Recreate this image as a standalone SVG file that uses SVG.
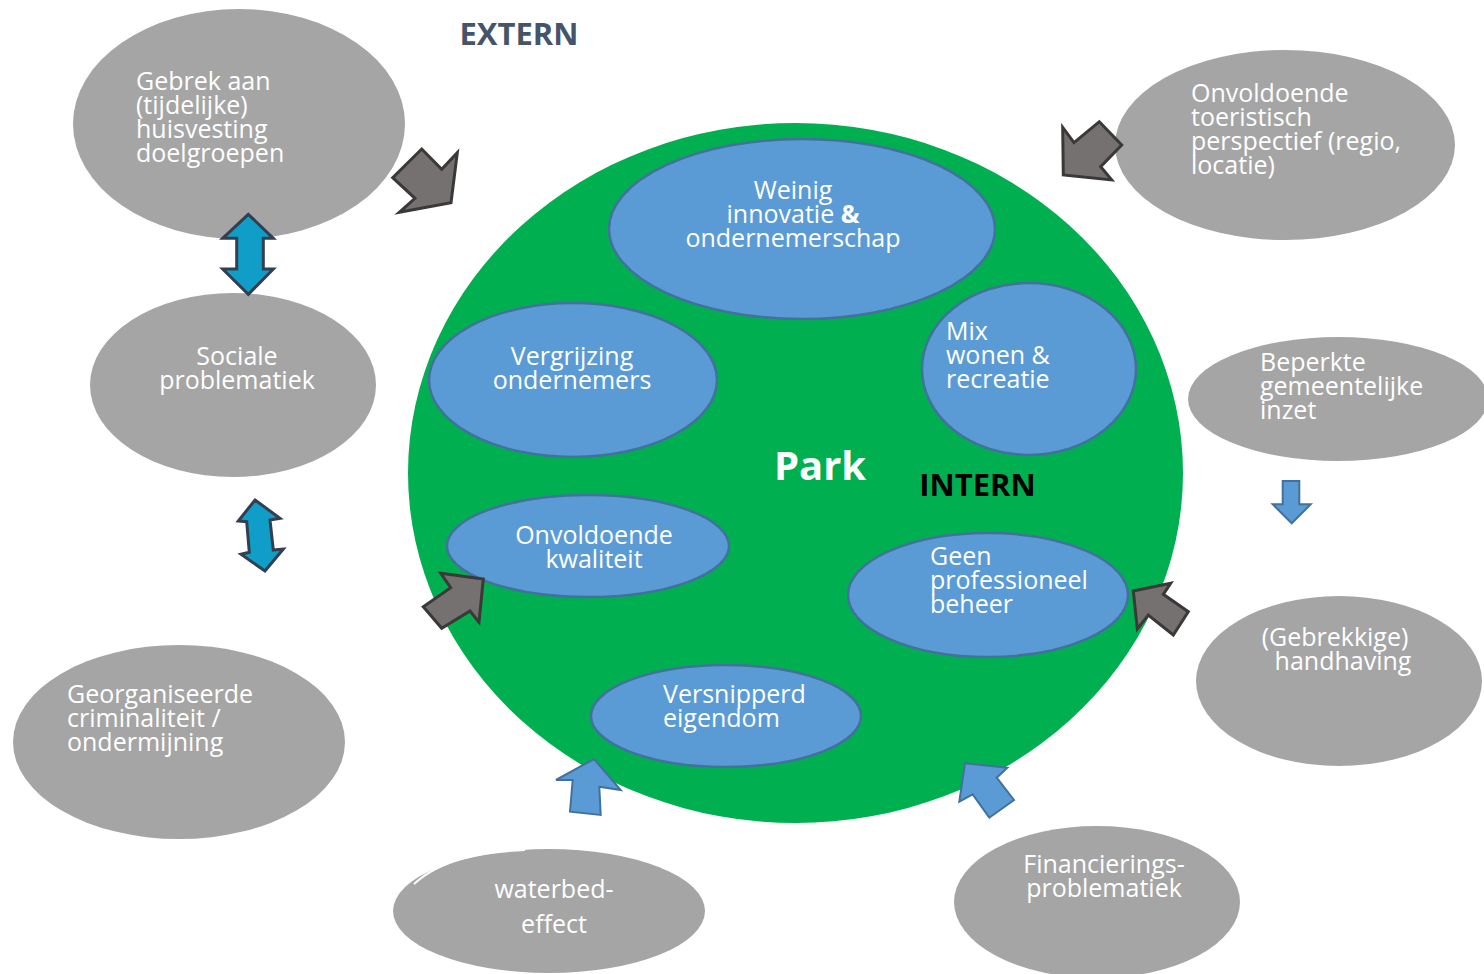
<svg xmlns="http://www.w3.org/2000/svg" width="1484" height="974" viewBox="0 0 1484 974">
<style>
.g{fill:#A5A5A5}
.b{fill:#5B9BD5;stroke:#41719C;stroke-width:2.5}
.t{font-family:"Open Sans","Liberation Sans",sans-serif;font-size:25px;fill:#fff}
.c{text-anchor:middle}
.ga{fill:#767171;stroke:#3B3838;stroke-width:3;stroke-linejoin:miter}
.da{fill:#109EC8;stroke:#333F4F;stroke-width:3}
.ba{fill:#5B9BD5;stroke:#41719C;stroke-width:2}
</style>
<rect width="1484" height="974" fill="#fff"/>
<g id="park">
<ellipse cx="795.5" cy="473" rx="387.5" ry="350" fill="#00B050"/>
<text x="820" y="480" class="t c" style="font-size:40px;font-weight:bold">Park</text>
</g>
<g id="extern-label"><text x="519" y="45" class="t c" style="font-size:31px;font-weight:bold;fill:#44546A">EXTERN</text></g>
<g id="intern-label"><text x="977.5" y="496" class="t c" style="font-size:31px;font-weight:bold;fill:#000">INTERN</text></g>

<g id="weinig"><ellipse class="b" cx="802" cy="229" rx="193" ry="90"/>
<text class="t c" x="793" y="199">Weinig</text>
<text class="t c" x="793" y="223">innovatie <tspan font-weight="bold">&amp;</tspan></text>
<text class="t c" x="793" y="247">ondernemerschap</text></g>
<g id="vergrijzing"><ellipse class="b" cx="573" cy="380" rx="144" ry="77"/>
<text class="t c" x="572" y="365">Vergrijzing</text>
<text class="t c" x="572" y="389">ondernemers</text></g>
<g id="mix"><ellipse class="b" cx="1029" cy="369" rx="107" ry="86"/>
<text class="t" x="946" y="340">Mix</text>
<text class="t" x="946" y="364">wonen &amp;</text>
<text class="t" x="946" y="388">recreatie</text></g>
<g id="kwaliteit"><ellipse class="b" cx="588" cy="546" rx="141" ry="51"/>
<text class="t c" x="594" y="544">Onvoldoende</text>
<text class="t c" x="594" y="568">kwaliteit</text></g>
<g id="beheer"><ellipse class="b" cx="988" cy="595" rx="140" ry="62"/>
<text class="t" x="930" y="565">Geen</text>
<text class="t" x="930" y="589">professioneel</text>
<text class="t" x="930" y="613">beheer</text></g>
<g id="eigendom"><ellipse class="b" cx="726" cy="716" rx="135" ry="51"/>
<text class="t" x="663" y="703">Versnipperd</text>
<text class="t" x="663" y="727">eigendom</text></g>

<g id="gebrek"><ellipse class="g" cx="239" cy="124" rx="166" ry="115"/>
<text class="t" x="136" y="90">Gebrek aan</text>
<text class="t" x="136" y="114">(tijdelijke)</text>
<text class="t" x="136" y="138">huisvesting</text>
<text class="t" x="136" y="162">doelgroepen</text></g>
<g id="sociale"><ellipse class="g" cx="233" cy="385" rx="143" ry="92"/>
<text class="t c" x="237" y="365">Sociale</text>
<text class="t c" x="237" y="389">problematiek</text></g>
<g id="criminaliteit"><ellipse class="g" cx="179" cy="742" rx="166" ry="97"/>
<text class="t" x="67" y="703">Georganiseerde</text>
<text class="t" x="67" y="727">criminaliteit /</text>
<text class="t" x="67" y="751">ondermijning</text></g>
<g id="waterbed"><ellipse class="g" cx="549" cy="911" rx="156" ry="62"/>
<path d="M414,884 C440,860 480,852 525,850" fill="none" stroke="#fff" stroke-width="2"/>
<text class="t c" x="554" y="898">waterbed-</text>
<text class="t c" x="554" y="933">effect</text></g>
<g id="financiering"><ellipse class="g" cx="1097" cy="902" rx="143" ry="76"/>
<text class="t c" x="1104" y="873">Financierings-</text>
<text class="t c" x="1104" y="897">problematiek</text></g>
<g id="handhaving"><ellipse class="g" cx="1339" cy="681" rx="143" ry="85"/>
<text class="t c" x="1335" y="646">(Gebrekkige)</text>
<text class="t c" x="1343" y="670">handhaving</text></g>
<g id="beperkte"><ellipse class="g" cx="1338" cy="399" rx="150" ry="62"/>
<text class="t" x="1260" y="371">Beperkte</text>
<text class="t" x="1260" y="395">gemeentelijke</text>
<text class="t" x="1260" y="419">inzet</text></g>
<g id="toeristisch"><ellipse class="g" cx="1285" cy="145" rx="170" ry="95"/>
<text class="t" x="1191" y="102">Onvoldoende</text>
<text class="t" x="1191" y="126">toeristisch</text>
<text class="t" x="1191" y="150">perspectief (regio,</text>
<text class="t" x="1191" y="174">locatie)</text></g>

<g id="connectors">
<polygon class="ga" points="421.7,149 441.7,169.3 457.3,152.7 451,202.7 399.3,212.3 415,198.3 392.7,177.7"/>
<polygon class="ga" points="1062.7,127.3 1074,142.7 1099.3,121.7 1121.7,145 1100.7,166.7 1111.7,180 1063.3,175"/>
<polygon class="ga" points="483.3,579 479,622.3 470,611 441.7,628.3 423.3,606.7 450.7,587.7 440.7,573.3"/>
<polygon class="ga" points="1133.3,591 1170.7,583.3 1163.3,594.3 1188.3,611.7 1173.3,635 1148.3,615 1137.3,629"/>
<polygon class="da" points="248.3,214.3 273.3,238.3 263.3,238.3 263.3,269 273.3,269 248.3,294.3 222.7,269 236.7,269 236.7,238.3 222.7,238.3"/>
<polygon class="da" points="255,500 280,518.3 270,520 273.3,550 283.3,549 265,571 241,554.3 249.3,552.3 246.7,521.7 238.3,521"/>
<polygon class="ba" points="1282.7,481 1299.3,481 1299.3,504.3 1310.7,504.3 1291.7,523.3 1272.7,504.3 1282.7,504.3"/>
<polygon class="ba" points="594,759 620.7,790 599.3,786.7 600.7,815 570,811.7 572.7,780 556,780"/>
<polygon class="ba" points="965,763.3 1007.3,767.7 996.7,777.7 1014,800 989.3,817.7 972.7,794.3 959.3,801.7"/>
</g>
</svg>
